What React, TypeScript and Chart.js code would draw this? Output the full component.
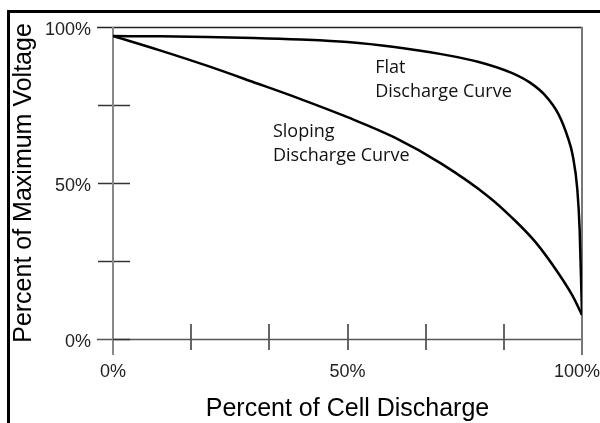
import React, { useEffect, useRef } from 'react';
import { Chart, registerables } from 'chart.js';

Chart.register(...registerables);

// ---- data ----
const xTickValues = [0, 100 / 6, 200 / 6, 50, 400 / 6, 500 / 6, 100];
const xTickLabels = ['0%', '', '', '50%', '', '', '100%  '];
const yTickValues = [0, 25, 50, 75, 100];
const yTickLabels = ['0%', '', '50%', '', '100%'];

const slopingX = [0, 10, 20, 30, 40, 50, 60, 70, 80, 85, 90, 95, 98, 100];
const slopingY = [97.1, 92.5, 87.6, 82.3, 76.9, 71.1, 64.6, 56.2, 45.7, 39.0, 31.2, 21.0, 13.8, 7.7];

const flatX = [0, 10, 20, 30, 40, 50, 60, 70, 78, 85, 89, 92, 95, 97, 98, 99, 99.5, 100];
const flatY = [97.1, 97.0, 96.8, 96.5, 96.0, 95.2, 93.6, 91.3, 88.8, 85.3, 82.1, 78.3, 72.0, 64.5, 59, 48, 35, 7.7];

const flatLabel = ['Flat', 'Discharge Curve'];
const slopingLabel = ['Sloping', 'Discharge Curve'];

const SANS = '"Liberation Sans", Arial, Helvetica, sans-serif';
const NOTE_FONT = '18px "Open Sans", "Noto Sans", sans-serif';

const toPoints = (xs: number[], ys: number[]) => xs.map((x, i) => ({ x, y: ys[i] }));

const framePlugin = {
  id: 'frame',
  beforeDatasetsDraw(chart: any) {
    const { ctx, scales } = chart;
    const xs = scales.x;
    const ys = scales.y;
    const x0 = xs.getPixelForValue(0);
    const x1 = xs.getPixelForValue(100);
    const y0 = ys.getPixelForValue(0);
    const y1 = ys.getPixelForValue(100);
    const seg = (ax: number, ay: number, bx: number, by: number, color: string, w: number) => {
      ctx.beginPath();
      ctx.strokeStyle = color;
      ctx.lineWidth = w;
      ctx.moveTo(ax, ay);
      ctx.lineTo(bx, by);
      ctx.stroke();
    };
    ctx.save();
    yTickValues.forEach((v) => {
      if (v === 0 || v === 100) return;
      const py = Math.round(ys.getPixelForValue(v)) + 0.5;
      seg(x0 - 15, py, x0 + 17, py, '#333', 1.5);
    });
    xTickValues.forEach((v, i) => {
      if (i === 0 || i === xTickValues.length - 1) return;
      const px = Math.round(xs.getPixelForValue(v));
      seg(px, y0 - 15, px, y0 + 11, '#666', 2);
    });
    seg(x0 - 16, Math.round(y0) + 0.5, x1, Math.round(y0) + 0.5, '#555', 1.5);
    seg(x0 - 16, Math.round(y1) + 0.5, x1, Math.round(y1) + 0.5, '#222', 1.5);
    seg(Math.round(x0), y1, Math.round(x0), y0 + 16, '#888', 2);
    seg(Math.round(x1), y1, Math.round(x1), y0 + 16, '#777', 2);
    seg(x0, Math.round(y0) + 0.5, x0 + 17, Math.round(y0) + 0.5, '#333', 1.5);
    ctx.restore();
  },
  afterDatasetsDraw(chart: any) {
    const { ctx, scales } = chart;
    const xs = scales.x;
    const ys = scales.y;
    ctx.save();
    ctx.font = NOTE_FONT;
    ctx.fillStyle = '#111';
    ctx.textAlign = 'left';
    ctx.textBaseline = 'middle';
    const draw = (lines: string[], vx: number, vy: number) => {
      const px = xs.getPixelForValue(vx);
      const py = ys.getPixelForValue(vy);
      lines.forEach((t, i) => ctx.fillText(t, px, py + i * 24));
    };
    draw(flatLabel, 55.9, 86.9);
    draw(slopingLabel, 34.1, 66.3);
    ctx.restore();
  },
};

export default function App() {
  const ref = useRef<HTMLCanvasElement | null>(null);

  useEffect(() => {
    if (!ref.current) return;
    const chart = new Chart(ref.current, {
      type: 'line',
      data: {
        datasets: [
          {
            label: 'Flat Discharge Curve',
            data: toPoints(flatX, flatY),
            borderColor: '#000',
            borderWidth: 2.5,
            pointRadius: 0,
            cubicInterpolationMode: 'monotone',
            fill: false,
          },
          {
            label: 'Sloping Discharge Curve',
            data: toPoints(slopingX, slopingY),
            borderColor: '#000',
            borderWidth: 2.5,
            pointRadius: 0,
            cubicInterpolationMode: 'monotone',
            fill: false,
          },
        ],
      },
      options: {
        animation: false,
        responsive: false,
        maintainAspectRatio: false,
        layout: { padding: { left: 0, right: 18, top: 27, bottom: 0 } },
        plugins: { legend: { display: false }, tooltip: { enabled: false } },
        scales: {
          x: {
            type: 'linear',
            min: 0,
            max: 100,
            position: 'bottom',
            afterBuildTicks: (axis: any) => {
              axis.ticks = xTickValues.map((value) => ({ value }));
            },
            afterFit: (axis: any) => {
              axis.height = 84;
              axis.paddingLeft = 0;
              axis.paddingRight = 0;
            },
            grid: { display: false, drawTicks: false },
            border: { display: false },
            ticks: {
              autoSkip: false,
              maxRotation: 0,
              minRotation: 0,
              padding: 22,
              color: '#222',
              font: { family: SANS, size: 18 },
              callback: (_v: any, i: number) => xTickLabels[i],
            },
            title: {
              display: true,
              text: 'Percent of Cell Discharge',
              color: '#000',
              font: { family: SANS, size: 25, lineHeight: 1.1 },
              padding: { top: 0, bottom: 0 },
            },
          },
          y: {
            type: 'linear',
            min: 0,
            max: 100,
            position: 'left',
            afterBuildTicks: (axis: any) => {
              axis.ticks = yTickValues.map((value) => ({ value }));
            },
            afterFit: (axis: any) => {
              axis.width = 113;
              axis.paddingTop = 0;
              axis.paddingBottom = 0;
            },
            grid: { display: false, drawTicks: false },
            border: { display: false },
            ticks: {
              autoSkip: false,
              padding: 22,
              labelOffset: 3,
              color: '#222',
              font: { family: SANS, size: 18 },
              callback: (_v: any, i: number) => yTickLabels[i],
            },
            title: {
              display: true,
              text: 'Percent of Maximum Voltage',
              color: '#000',
              font: { family: SANS, size: 25, lineHeight: 1.1 },
              padding: { top: 10, bottom: 0 },
            },
          },
        },
      } as any,
      plugins: [framePlugin],
    });
    return () => chart.destroy();
  }, []);

  return (
    <div style={{ position: 'fixed', left: 0, top: 0, width: 600, height: 423, background: '#fff' }}>
      <div
        style={{
          position: 'absolute',
          left: 7,
          top: 10,
          width: 593,
          height: 413,
          borderLeft: '3px solid #000',
          borderTop: '3px solid #000',
          boxSizing: 'border-box',
        }}
      />
      <canvas ref={ref} width={600} height={423} style={{ position: 'absolute', left: 0, top: 0, display: 'block' }} />
    </div>
  );
}
